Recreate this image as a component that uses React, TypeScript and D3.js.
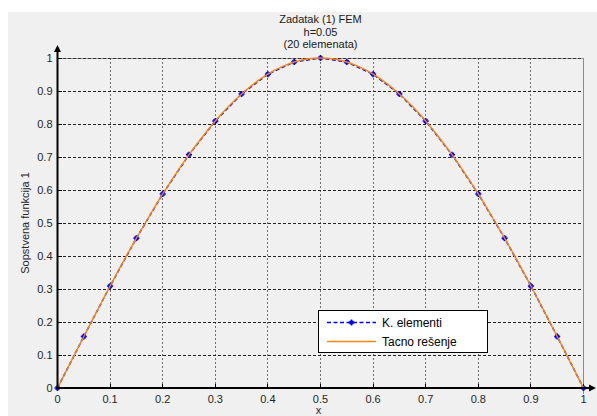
import React from "react";
import * as d3 from "d3";

// Mesh nodes (h = 0.05, 20 elements) and FEM eigenvector values
const nodesX = [0, 0.05, 0.1, 0.15, 0.2, 0.25, 0.3, 0.35, 0.4, 0.45, 0.5, 0.55, 0.6, 0.65, 0.7, 0.75, 0.8, 0.85, 0.9, 0.95, 1];
const femValues = [0, 0.156, 0.309, 0.454, 0.588, 0.707, 0.809, 0.891, 0.951, 0.988, 1.0, 0.988, 0.951, 0.891, 0.809, 0.707, 0.588, 0.454, 0.309, 0.156, 0];

// Exact solution sampled on a finer grid
const exactX = [0, 0.025, 0.05, 0.075, 0.1, 0.125, 0.15, 0.175, 0.2, 0.225, 0.25, 0.275, 0.3, 0.325, 0.35, 0.375, 0.4, 0.425, 0.45, 0.475, 0.5, 0.525, 0.55, 0.575, 0.6, 0.625, 0.65, 0.675, 0.7, 0.725, 0.75, 0.775, 0.8, 0.825, 0.85, 0.875, 0.9, 0.925, 0.95, 0.975, 1];
const exactValues = [0, 0.078, 0.156, 0.233, 0.309, 0.383, 0.454, 0.522, 0.588, 0.649, 0.707, 0.760, 0.809, 0.853, 0.891, 0.924, 0.951, 0.972, 0.988, 0.997, 1.0, 0.997, 0.988, 0.972, 0.951, 0.924, 0.891, 0.853, 0.809, 0.760, 0.707, 0.649, 0.588, 0.522, 0.454, 0.383, 0.309, 0.233, 0.156, 0.078, 0];

const xTicks = [0, 0.1, 0.2, 0.3, 0.4, 0.5, 0.6, 0.7, 0.8, 0.9, 1];
const yTicks = [0, 0.1, 0.2, 0.3, 0.4, 0.5, 0.6, 0.7, 0.8, 0.9, 1];
const titleLines = ["Zadatak (1) FEM", "h=0.05", "(20 elemenata)"];
const legendLabels = ["K. elementi", "Tacno rešenje"];

const W = 597;
const H = 416;
const left = 57.5, right = 583.5, top = 58, bottom = 388;
const FONT = "'Liberation Sans', Arial, sans-serif";
const BLUE = "#0000ff";
const ORANGE = "#f7870f";

export default function App() {
  const x = d3.scaleLinear().domain([0, 1]).range([left, right]);
  const y = d3.scaleLinear().domain([0, 1]).range([bottom, top]);

  const femLine = d3.line<number>().x((_, i) => x(nodesX[i])).y((d) => y(d));
  const exactLine = d3
    .line<number>()
    .x((_, i) => x(exactX[i]))
    .y((d) => y(d))
    .curve(d3.curveMonotoneX);

  const star = (cx: number, cy: number, key: string | number, s = 3) => (
    <g key={key} stroke={BLUE} strokeWidth={1.6}>
      <line x1={cx - s} y1={cy} x2={cx + s} y2={cy} />
      <line x1={cx} y1={cy - s} x2={cx} y2={cy + s} />
      <line x1={cx - s * 0.6} y1={cy - s * 0.6} x2={cx + s * 0.6} y2={cy + s * 0.6} />
      <line x1={cx - s * 0.6} y1={cy + s * 0.6} x2={cx + s * 0.6} y2={cy - s * 0.6} />
    </g>
  );

  const legX = 318, legY = 310, legW = 169, legH = 42;

  return (
    <svg
      width={W}
      height={H}
      style={{ position: "absolute", left: 0, top: 0, display: "block" }}
      fontFamily={FONT}
    >
      <rect x={0} y={0} width={W} height={H} fill="#ffffff" />
      <rect x={8} y={12} width={W - 8} height={H - 12} fill="#f0f0f0" />

      {/* title */}
      {titleLines.map((t, i) => (
        <text key={t} x={(left + right) / 2} y={23 + i * 12.5} textAnchor="middle" fontSize={11} fill="#1a1a1a">
          {t}
        </text>
      ))}

      {/* grid */}
      <g stroke="#6e6e6e" strokeWidth={1} strokeDasharray="2,2" shapeRendering="crispEdges">
        {xTicks.slice(1, -1).map((t) => (
          <line key={"gx" + t} x1={x(t)} x2={x(t)} y1={top} y2={bottom} />
        ))}
      </g>
      <g stroke="#222" strokeWidth={1} strokeDasharray="3,2" shapeRendering="crispEdges">
        {yTicks.slice(1).map((t) => (
          <line key={"gy" + t} x1={left} x2={right} y1={y(t)} y2={y(t)} />
        ))}
      </g>
      <line x1={left} x2={right} y1={top} y2={top} stroke="#444" strokeWidth={1} opacity={0.5} shapeRendering="crispEdges" />
      <line x1={right} x2={right} y1={top} y2={bottom + 6} stroke="#8a8a8a" strokeWidth={1} shapeRendering="crispEdges" />

      {/* tick marks */}
      <g stroke="#000" strokeWidth={1} shapeRendering="crispEdges">
        {yTicks.map((t) => (
          <line key={"ty" + t} x1={left} x2={left + 4} y1={y(t)} y2={y(t)} />
        ))}
        {xTicks.map((t) => (
          <line key={"tx" + t} x1={x(t)} x2={x(t)} y1={bottom} y2={bottom - 4} />
        ))}
      </g>

      {/* tick labels */}
      {yTicks.map((t) => (
        <text key={"ly" + t} x={left - 5} y={y(t) + 4} textAnchor="end" fontSize={11} fill="#262626">
          {String(t)}
        </text>
      ))}
      {xTicks.map((t) => (
        <text key={"lx" + t} x={x(t)} y={bottom + 15} textAnchor="middle" fontSize={11} fill="#262626">
          {String(t)}
        </text>
      ))}
      <text x={(left + right) / 2 - 2} y={H - 2} textAnchor="middle" fontSize={11} fill="#262626">
        x
      </text>
      <text
        transform={`translate(29,${(top + bottom) / 2}) rotate(-90)`}
        textAnchor="middle"
        fontSize={11}
        fill="#262626"
      >
        Sopstvena funkcija 1
      </text>

      {/* FEM solution */}
      <path d={femLine(femValues) ?? ""} fill="none" stroke={BLUE} strokeWidth={1.5} strokeDasharray="4,2.5" />
      {femValues.map((v, i) => star(x(nodesX[i]), y(v), "m" + i))}

      {/* exact solution */}
      <path d={exactLine(exactValues) ?? ""} fill="none" stroke={ORANGE} strokeWidth={1.4} />

      {/* axes with arrows */}
      <line x1={left} x2={left} y1={bottom + 1} y2={top - 10} stroke="#000" strokeWidth={2} />
      <path d={`M${left - 3.5},${top - 6} L${left},${top - 13} L${left + 3.5},${top - 6} Z`} fill="#000" />
      <line x1={left - 1} x2={W - 4} y1={bottom} y2={bottom} stroke="#000" strokeWidth={2} />
      <path d={`M${W - 8},${bottom - 3.5} L${W - 1},${bottom} L${W - 8},${bottom + 3.5} Z`} fill="#000" />

      {/* legend */}
      <rect x={legX} y={legY} width={legW} height={legH} fill="#ffffff" stroke="#000" strokeWidth={1} shapeRendering="crispEdges" />
      <line x1={legX + 9} x2={legX + 58} y1={legY + 12.5} y2={legY + 12.5} stroke={BLUE} strokeWidth={1.5} strokeDasharray="4,2.5" />
      {star(legX + 33.5, legY + 12.5, "lm")}
      <text x={legX + 64} y={legY + 16.5} fontSize={12} fill="#000">
        {legendLabels[0]}
      </text>
      <line x1={legX + 9} x2={legX + 58} y1={legY + 31.5} y2={legY + 31.5} stroke={ORANGE} strokeWidth={1.5} />
      <text x={legX + 64} y={legY + 35.5} fontSize={12} fill="#000">
        {legendLabels[1]}
      </text>
    </svg>
  );
}
